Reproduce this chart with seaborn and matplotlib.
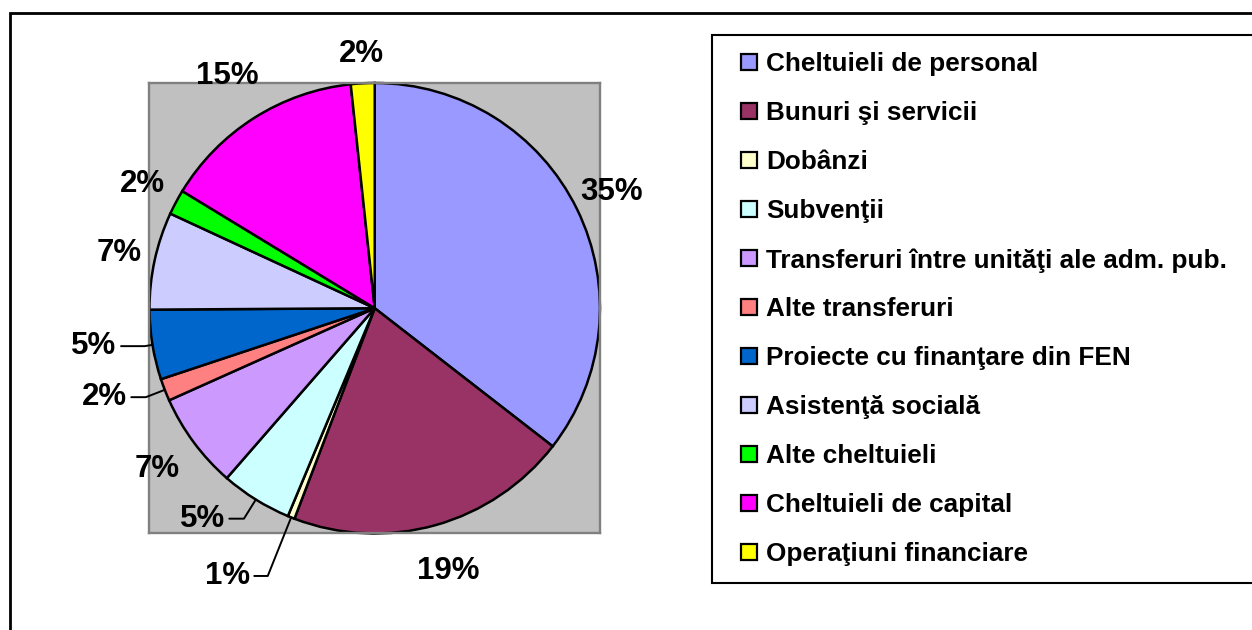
import numpy as np
import matplotlib
matplotlib.use('Agg')
import matplotlib.pyplot as plt
from matplotlib.lines import Line2D
from matplotlib.patches import Rectangle
import seaborn as sns

#%% data

categories = ['Cheltuieli de personal', 'Bunuri şi servicii', 'Dobânzi', 'Subvenţii',
              'Transferuri între unităţi ale adm. pub.', 'Alte transferuri',
              'Proiecte cu finanţare din FEN', 'Asistenţă socială', 'Alte cheltuieli',
              'Cheltuieli de capital', 'Operaţiuni financiare']
shares = [35.5, 20.3, 0.5, 5.1, 6.9, 1.6, 5.0, 7.0, 1.8, 14.6, 1.7]
pct_labels = ['35%', '19%', '1%', '5%', '7%', '2%', '5%', '7%', '2%', '15%', '2%']
colors = ['#9999FF', '#993366', '#FFFFCC', '#CCFFFF', '#CC99FF', '#FF8080',
          '#0066CC', '#CCCCFF', '#00FF00', '#FF00FF', '#FFFF00']

# radial distance of each label (pie radius = 1)
label_dist = [1.17, 1.21, 1.28, 1.10, 1.20, 1.09, 1.035, 1.16, 1.17, 1.22, 1.13]
# labels drawn with a leader line: index -> horizontal segment length
leaders = {2: 0.06, 3: 0.065, 5: 0.065, 6: 0.105}

#%%
sns.set_style('white')
plt.rcParams['font.family'] = ['Liberation Sans', 'DejaVu Sans']
plt.rcParams['text.color'] = 'black'

fig = plt.figure(figsize=(12.52, 6.3), dpi=100)
ax = fig.add_axes([0.1194, 0.1532, 0.3598, 0.7151])

wedges, _ = ax.pie(shares, colors=colors, startangle=90, counterclock=False,
                   frame=True,
                   wedgeprops=dict(edgecolor='black', linewidth=1.8))
for w in wedges:
    w.set_clip_on(False)

ax.set_xlim(-1, 1)
ax.set_ylim(-1, 1)
ax.set_aspect('auto')
ax.set_xticks([])
ax.set_yticks([])
ax.set_facecolor('#C0C0C0')
for sp in ax.spines.values():
    sp.set_color('#808080')
    sp.set_linewidth(1.7)

for i, w in enumerate(wedges):
    ang = np.deg2rad((w.theta1 + w.theta2) / 2)
    cx, cy = np.cos(ang), np.sin(ang)
    d = label_dist[i]
    if i in leaders:
        x1, y1 = cx * d, cy * d
        x2 = x1 - leaders[i]
        ax.plot([cx, x1, x2], [cy, y1, y1], color='black', lw=1.4,
                clip_on=False, zorder=5)
        ax.text(x2 - 0.02, y1, pct_labels[i], ha='right', va='center',
                fontsize=22.5, fontweight='bold', color='black')
    else:
        ax.text(cx * d, cy * d, pct_labels[i], ha='center', va='center',
                fontsize=22.5, fontweight='bold', color='black')

# legend with square markers
handles = [Line2D([0], [0], marker='s', linestyle='none', markersize=12.2,
                  markerfacecolor=c, markeredgecolor='black', markeredgewidth=1.6)
           for c in colors]
leg = fig.legend(handles, categories, loc='upper left',
                 bbox_to_anchor=(0.5687, 0, 0.44, 0.9444), mode='expand',
                 borderaxespad=0, prop=dict(family='Liberation Sans', weight='bold', size=18.8),
                 handlelength=1.5, handletextpad=-0.1, labelspacing=0.955,
                 borderpad=0.66, fancybox=False, framealpha=1, labelcolor='black')
leg.get_frame().set_edgecolor('black')
leg.get_frame().set_linewidth(1.5)

# outer chart border
fig.patches.append(Rectangle((10.3 / 1252, -0.1), 1.2, 1.1 - 13.5 / 630,
                             transform=fig.transFigure, fill=False,
                             edgecolor='black', linewidth=2))

fig.savefig('out.png', dpi=100)
